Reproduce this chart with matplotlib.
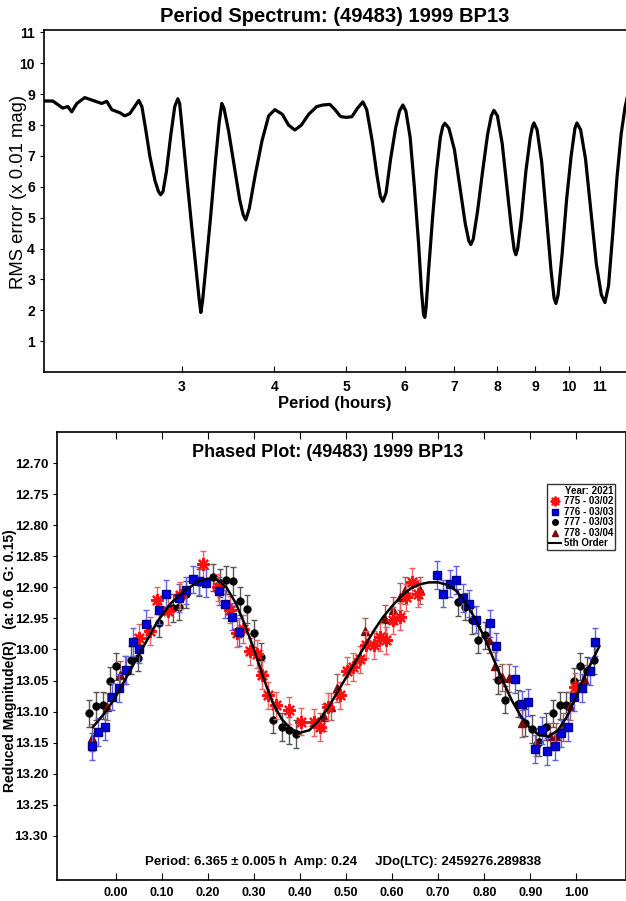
import numpy as np
import matplotlib.pyplot as plt
from matplotlib.ticker import NullLocator, FixedLocator, FixedFormatter
from matplotlib.lines import Line2D

plt.rcParams['font.family'] = ['Liberation Sans', 'DejaVu Sans']

# ---- period spectrum (period in hours, RMS error x0.01 mag)
spec_period = [1.95, 2.009, 2.072, 2.105, 2.131, 2.165, 2.219, 2.275, 2.339, 2.376, 2.413,
               2.474, 2.513, 2.552, 2.60, 2.625, 2.65, 2.68, 2.716, 2.76, 2.79, 2.810, 2.83,
               2.86, 2.90, 2.935, 2.963, 2.98, 3.00, 3.05, 3.10, 3.14, 3.165, 3.183, 3.20,
               3.23, 3.28, 3.33, 3.37, 3.397, 3.42, 3.47, 3.53, 3.59, 3.63, 3.66, 3.70,
               3.77, 3.85, 3.93, 4.006, 4.10, 4.18, 4.263, 4.35, 4.45, 4.564, 4.65, 4.753,
               4.83, 4.903, 4.93, 5.0, 5.089, 5.18, 5.266, 5.33, 5.42, 5.50, 5.56, 5.604,
               5.66, 5.74, 5.83, 5.90, 5.963, 6.02, 6.10, 6.18, 6.26, 6.32, 6.36, 6.385,
               6.41, 6.46, 6.54, 6.62, 6.70, 6.75, 6.794, 6.88, 7.00, 7.12, 7.24, 7.32,
               7.366, 7.42, 7.52, 7.64, 7.76, 7.85, 7.913, 8.00, 8.12, 8.24, 8.36, 8.43,
               8.473, 8.52, 8.62, 8.74, 8.86, 8.92, 8.961, 9.05, 9.18, 9.32, 9.45, 9.54,
               9.595, 9.66, 9.78, 9.92, 10.06, 10.18, 10.243, 10.36, 10.52, 10.70, 10.88,
               11.05, 11.175, 11.30, 11.45, 11.60, 11.75, 11.89, 12.0]
spec_rms = [8.78, 8.78, 8.55, 8.6, 8.43, 8.7, 8.89, 8.8, 8.7, 8.77, 8.5,
            8.4, 8.3, 8.37, 8.65, 8.8, 8.6, 7.9, 7.0, 6.2, 5.85, 5.74, 5.85,
            6.5, 7.7, 8.6, 8.85, 8.7, 8.0, 6.2, 4.5, 3.2, 2.4, 1.93, 2.3,
            3.3, 5.0, 6.8, 8.1, 8.7, 8.55, 7.8, 6.7, 5.6, 5.1, 4.93, 5.3,
            6.4, 7.5, 8.3, 8.5, 8.35, 8.0, 7.84, 8.0, 8.35, 8.6, 8.65, 8.67,
            8.5, 8.3, 8.27, 8.25, 8.27, 8.55, 8.75, 8.5, 7.5, 6.4, 5.7, 5.53,
            5.8, 6.9, 7.9, 8.45, 8.65, 8.45, 7.6, 6.0, 4.2, 2.6, 1.85, 1.77,
            2.1, 3.3, 5.0, 6.5, 7.6, 7.95, 8.06, 7.9, 7.2, 6.0, 4.8, 4.25,
            4.13, 4.3, 5.2, 6.5, 7.7, 8.3, 8.48, 8.3, 7.4, 6.0, 4.6, 3.95,
            3.8, 4.0, 5.0, 6.5, 7.6, 7.95, 8.07, 7.85, 6.8, 5.0, 3.3, 2.4,
            2.22, 2.5, 3.8, 5.6, 7.0, 7.9, 8.07, 7.85, 6.9, 5.2, 3.5,
            2.5, 2.25, 2.8, 4.5, 6.3, 7.7, 8.55, 9.0]
spec_xticks = [3, 4, 5, 6, 7, 8, 9, 10, 11]

# ---- phased data: 775 - 03/02 (red asterisks)
ph775 = [0.049, 0.075, 0.09, 0.112, 0.14, 0.19, 0.222, 0.248, 0.262, 0.275, 0.291, 0.306,
         0.317, 0.331, 0.348, 0.375, 0.401, 0.43, 0.444, 0.46, 0.487, 0.503, 0.516, 0.531,
         0.544, 0.560, 0.573, 0.587, 0.601, 0.616, 0.631, 0.643, 0.657, 0.998]
mag775 = [12.981, 12.97, 12.921, 12.938, 12.913, 12.863, 12.90, 12.936, 12.974, 12.967,
          13.003, 13.007, 13.041, 13.074, 13.09, 13.098, 13.116, 13.117, 13.125, 13.092,
          13.074, 13.034, 13.028, 13.016, 12.992, 12.993, 12.98, 12.985, 12.953, 12.947,
          12.916, 12.891, 12.91, 13.06]

# 776 - 03/03 (blue squares)
ph776 = [-0.053, -0.039, -0.024, -0.009, 0.007, 0.022, 0.036, 0.049, 0.065, 0.094, 0.109,
         0.137, 0.152, 0.167, 0.181, 0.196, 0.223, 0.236, 0.252, 0.268, 0.698, 0.710,
         0.725, 0.739, 0.753, 0.768, 0.783, 0.812, 0.826, 0.867, 0.882, 0.896, 0.911,
         0.925, 0.937, 0.953, 0.967, 0.981, 0.996, 1.012, 1.029, 1.041]
mag776 = [13.156, 13.133, 13.124, 13.076, 13.062, 13.033, 12.988, 12.999, 12.959, 12.937,
          12.91, 12.917, 12.905, 12.887, 12.89, 12.893, 12.906, 12.927, 12.947, 12.972,
          12.88, 12.910, 12.894, 12.888, 12.917, 12.926, 12.952, 12.958, 12.995, 13.048,
          13.088, 13.085, 13.16, 13.13, 13.164, 13.156, 13.135, 13.125, 13.077, 13.062,
          13.035, 12.988]

# 777 - 03/03 (black circles)
ph777 = [-0.058, -0.043, -0.029, -0.013, 0.001, 0.032, 0.048, 0.094, 0.123, 0.136, 0.152,
         0.181, 0.21, 0.225, 0.239, 0.255, 0.270, 0.285, 0.300, 0.315, 0.342, 0.360,
         0.377, 0.391, 0.744, 0.759, 0.773, 0.787, 0.802, 0.831, 0.845, 0.874, 0.889,
         0.903, 0.918, 0.935, 0.950, 0.964, 0.978, 0.994, 1.009, 1.023, 1.039]
mag777 = [13.103, 13.091, 13.09, 13.05, 13.027, 13.017, 13.013, 12.958, 12.933, 12.931,
          12.911, 12.892, 12.884, 12.893, 12.888, 12.890, 12.922, 12.935, 12.974, 13.012,
          13.113, 13.125, 13.13, 13.136, 12.924, 12.931, 12.953, 12.984, 12.977, 13.049,
          13.081, 13.087, 13.118, 13.128, 13.149, 13.124, 13.103, 13.09, 13.09, 13.051,
          13.027, 13.034, 13.017]

# 778 - 03/04 (dark red triangles)
ph778 = [-0.051, -0.019, 0.009, 0.02, 0.452, 0.467, 0.481, 0.541, 0.585, 0.601, 0.616,
         0.628, 0.661, 0.81, 0.824, 0.839, 0.853, 0.882, 0.913, 0.942, 0.957, 0.972,
         0.987, 1.017]
mag778 = [13.142, 13.092, 13.041, 13.033, 13.109, 13.092, 13.062, 12.971, 12.951, 12.937,
          12.915, 12.905, 12.905, 12.984, 13.026, 13.045, 13.046, 13.119, 13.15, 13.14,
          13.14, 13.125, 13.091, 13.047]

# 5th order fit
fit_ph = [-0.05, -0.02, 0.00, 0.03, 0.06, 0.09, 0.12, 0.15, 0.18, 0.20, 0.22, 0.24, 0.26,
          0.28, 0.30, 0.32, 0.34, 0.36, 0.38, 0.40, 0.42, 0.44, 0.46, 0.48, 0.50, 0.52,
          0.54, 0.56, 0.58, 0.60, 0.62, 0.64, 0.66, 0.68, 0.70, 0.72, 0.74, 0.76, 0.78,
          0.80, 0.82, 0.84, 0.86, 0.88, 0.90, 0.92, 0.94, 0.96, 0.98, 1.00, 1.02, 1.05]
fit_mag = [13.125, 13.098, 13.075, 13.035, 12.995, 12.955, 12.925, 12.905, 12.89, 12.886,
           12.888, 12.90, 12.925, 12.96, 13.00, 13.045, 13.085, 13.112, 13.128, 13.134,
           13.13, 13.115, 13.095, 13.07, 13.045, 13.02, 12.995, 12.97, 12.948, 12.93,
           12.914, 12.902, 12.895, 12.892, 12.892, 12.896, 12.906, 12.925, 12.95, 12.98,
           13.015, 13.05, 13.082, 13.108, 13.127, 13.138, 13.14, 13.13, 13.108, 13.075,
           13.04, 12.995]
err_mag = 0.022

mag_ticks = [12.70, 12.75, 12.80, 12.85, 12.90, 12.95, 13.00, 13.05, 13.10, 13.15,
             13.20, 13.25, 13.30]
phase_ticks = [0.0, 0.1, 0.2, 0.3, 0.4, 0.5, 0.6, 0.7, 0.8, 0.9, 1.0]

fig = plt.figure(figsize=(6.26, 9.01), dpi=100)

# ---------------- top: period spectrum
ax1 = fig.add_axes([0.0703, 0.5871, 0.9297, 0.3796])
ax1.plot(spec_period, spec_rms, color='black', lw=2.3, solid_joinstyle='round')
ax1.set_xscale('log')
ax1.set_xlim(1.955, 11.93)
ax1.set_ylim(0, 11.08)
ax1.xaxis.set_major_locator(FixedLocator(spec_xticks))
ax1.xaxis.set_major_formatter(FixedFormatter([str(t) for t in spec_xticks]))
ax1.xaxis.set_minor_locator(NullLocator())
ax1.set_yticks(range(1, 12))
ax1.tick_params(axis='x', direction='in', length=4, labelsize=10, pad=6)
ax1.tick_params(axis='y', direction='out', length=3, labelsize=10)
for lab in ax1.get_xticklabels() + ax1.get_yticklabels():
    lab.set_fontweight('bold')
ax1.spines['right'].set_visible(False)
for s in ['left', 'bottom', 'top']:
    ax1.spines[s].set_linewidth(1.2)
ax1.set_xlabel('Period (hours)', fontsize=12, fontweight='bold', labelpad=1)
ax1.set_ylabel('RMS error (x 0.01 mag)', fontsize=13.3, va='center')
ax1.yaxis.set_label_coords(-0.043, 0.526)
ax1.set_title('Period Spectrum: (49483) 1999 BP13', fontsize=14.5, fontweight='bold', pad=6)

# ---------------- bottom: phased plot
ax2 = fig.add_axes([0.0911, 0.0233, 0.9089, 0.4972])
ax2.plot(fit_ph, fit_mag, color='black', lw=1.8, zorder=5)
ax2.errorbar(ph777, mag777, yerr=err_mag, fmt='o', ms=5, color='black',
             ecolor='#555555', elinewidth=1, capsize=2.5, zorder=3)
ax2.errorbar(ph778, mag778, yerr=err_mag, fmt='^', ms=5.5, color='#7a0a0a',
             ecolor='#a06060', elinewidth=1, capsize=2.5, zorder=3)
ax2.errorbar(ph776, mag776, yerr=err_mag, fmt='s', ms=6, mfc='#0000e0', mec='#000080',
             ecolor='#6060e0', elinewidth=1, capsize=2.5, zorder=4)
ax2.errorbar(ph775, mag775, yerr=err_mag, fmt='none', ecolor='#ee6060',
             elinewidth=1, capsize=2.5, zorder=4)
ax2.plot(ph775, mag775, ls='none', marker=(8, 2, 0), ms=9, mew=1.6,
         color='#ff1010', zorder=4)

ax2.set_xlim(-0.128, 1.108)
ax2.set_ylim(13.371, 12.65)
ax2.set_xticks(phase_ticks)
ax2.set_xticklabels(['%.2f' % t for t in phase_ticks])
ax2.set_yticks(mag_ticks)
ax2.set_yticklabels(['%.2f' % t for t in mag_ticks])
ax2.tick_params(axis='x', direction='in', length=5, labelsize=9, top=True, pad=5)
ax2.tick_params(axis='y', direction='out', length=3, labelsize=9.5, right=True)
for lab in ax2.get_xticklabels() + ax2.get_yticklabels():
    lab.set_fontweight('bold')
for s in ax2.spines.values():
    s.set_linewidth(1.2)
ax2.set_ylabel('Reduced Magnitude(R)   (a: 0.6  G: 0.15)', fontsize=10,
               fontweight='bold', va='center')
ax2.yaxis.set_label_coords(-0.083, 0.49)
ax2.text(0.475, 0.955, 'Phased Plot: (49483) 1999 BP13', transform=ax2.transAxes,
         ha='center', va='center', fontsize=13, fontweight='bold')
ax2.text(0.503, 0.04, 'Period: 6.365 \u00b1 0.005 h  Amp: 0.24     JDo(LTC): 2459276.289838',
         transform=ax2.transAxes, ha='center', va='center', fontsize=9.5, fontweight='bold')

handles = [
    Line2D([], [], ls='none', marker=(8, 2, 0), ms=7, mew=1.4, color='#ff1010'),
    Line2D([], [], ls='none', marker='s', ms=5, mfc='#0000e0', mec='#000080'),
    Line2D([], [], ls='none', marker='o', ms=4, color='black'),
    Line2D([], [], ls='none', marker='^', ms=5, color='#7a0a0a'),
    Line2D([], [], color='black', lw=1.5),
]
labels = ['775 - 03/02', '776 - 03/03', '777 - 03/03', '778 - 03/04', '5th Order']
leg = ax2.legend(handles, labels, title='Year: 2021', loc='upper right',
                 bbox_to_anchor=(0.981, 0.884),
                 prop={'weight': 'bold', 'size': 7},
                 title_fontproperties={'weight': 'bold', 'size': 7},
                 alignment='right', frameon=True, fancybox=False, edgecolor='black',
                 handlelength=1.2, handletextpad=0.3, borderpad=0.2, labelspacing=0.05,
                 borderaxespad=0, handleheight=0.6)
leg.get_frame().set_linewidth(1.0)

fig.savefig('out.png', dpi=100)
